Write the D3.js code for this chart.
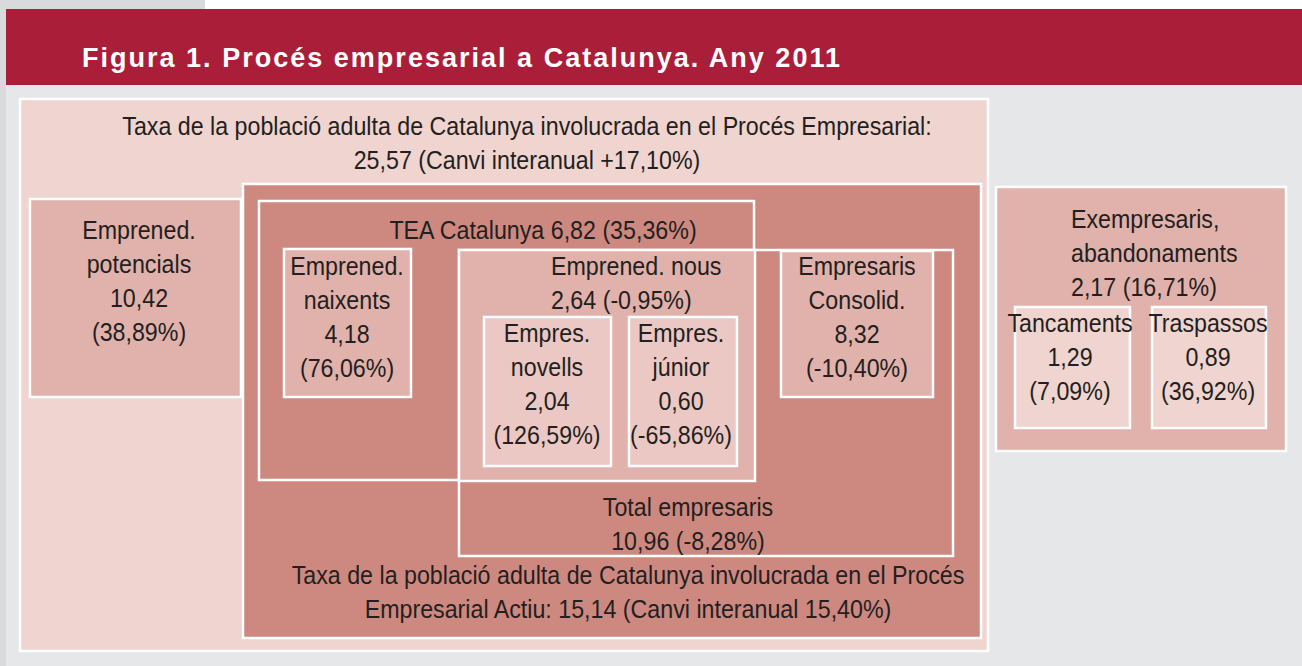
<!DOCTYPE html>
<html lang="ca">
<head>
  <meta charset="utf-8">
  <title>Figura 1. Procés empresarial a Catalunya. Any 2011</title>
  <script src="https://d3js.org/d3.v7.min.js"></script>
  <style>
    body { margin: 0; background: #e6e7e9; }
    svg { display: block; }
    .lbl { font-family: "Liberation Sans Narrow", "Liberation Sans", Arial, sans-serif; font-size: 26px; fill: #231f20; }
    .title { font-family: "Liberation Sans", Arial, sans-serif; font-weight: bold; font-size: 27px; fill: #fff; }
  </style>
</head>
<body>
  <svg></svg>
  <script>
    // dades de la figura (taxes sobre població adulta i canvi interanual, %)
    const nodeIds = ["total", "potencials", "actiu", "tea", "empresaris", "nous", "naixents",
                     "novells", "junior", "consolidats", "exempresaris", "tancaments", "traspassos"];
    const nodeValues = [25.57, 10.42, 15.14, 6.82, 10.96, 2.64, 4.18, 2.04, 0.60, 8.32, 2.17, 1.29, 0.89];
    const nodeChanges = [17.10, 38.89, 15.40, 35.36, -8.28, -0.95, 76.06, 126.59, -65.86, -10.40, 16.71, 7.09, 36.92];
    const nodeLabels = [
      ["Taxa de la població adulta de Catalunya involucrada en el Procés Empresarial:", "{v} (Canvi interanual {s}%)"],
      ["Emprened.", "potencials", "{v}", "({c}%)"],
      ["Taxa de la població adulta de Catalunya involucrada en el Procés", "Empresarial Actiu: {v} (Canvi interanual {c}%)"],
      ["TEA Catalunya {v} ({c}%)"],
      ["Total empresaris", "{v} ({c}%)"],
      ["Emprened. nous", "{v} ({c}%)"],
      ["Emprened.", "naixents", "{v}", "({c}%)"],
      ["Empres.", "novells", "{v}", "({c}%)"],
      ["Empres.", "júnior", "{v}", "({c}%)"],
      ["Empresaris", "Consolid.", "{v}", "({c}%)"],
      ["Exempresaris,", "abandonaments", "{v} ({c}%)"],
      ["Tancaments", "{v}", "({c}%)"],
      ["Traspassos", "{v}", "({c}%)"]
    ];
    const titleText = "Figura 1. Procés empresarial a Catalunya. Any 2011";

    // disposició dels requadres (unitats de la maqueta)
    const layout = {
      total:        { r: [20, 99, 988, 651],   fill: "l0", tx: 527, ty: 135, anchor: "middle" },
      potencials:   { r: [30, 199, 241, 397],  fill: "l2", tx: 139, ty: 239, anchor: "middle" },
      actiu:        { r: [243, 184, 981, 638], fill: "l1", tx: 628, ty: 584, anchor: "middle" },
      tea:          { r: [259, 201, 754, 480], fill: "l1", tx: 543, ty: 239, anchor: "middle" },
      empresaris:   { r: [459, 250, 953, 556], fill: "l1", tx: 688, ty: 516, anchor: "middle" },
      nous:         { r: [459, 250, 755, 481], fill: "l2", tx: 551, ty: 275, anchor: "start" },
      naixents:     { r: [284, 249, 411, 397], fill: "l2", tx: 347, ty: 275, anchor: "middle" },
      novells:      { r: [484, 317, 611, 466], fill: "l3", tx: 547, ty: 342, anchor: "middle" },
      junior:       { r: [629, 317, 737, 466], fill: "l3", tx: 681, ty: 342, anchor: "middle" },
      consolidats:  { r: [781, 251, 933, 397], fill: "l2", tx: 857, ty: 275, anchor: "middle" },
      exempresaris: { r: [996, 187, 1286, 451], fill: "l2", tx: 1071, ty: 228, anchor: "start" },
      tancaments:   { r: [1015, 307, 1130, 428], fill: "l0", tx: 1070, ty: 332, anchor: "middle" },
      traspassos:   { r: [1152, 307, 1266, 428], fill: "l0", tx: 1208, ty: 332, anchor: "middle" }
    };
    const fills = { l0: "#efd4cf", l1: "#cd8880", l2: "#e1b1ab", l3: "#ebc8c3" };
    const lineGap = 34;

    const width = 1302, height = 666;
    const x = d3.scaleLinear().domain([0, 1302]).range([0, width]);
    const y = d3.scaleLinear().domain([0, 666]).range([0, height]);

    const loc = d3.formatLocale({ decimal: ",", thousands: ".", grouping: [3], currency: ["", " €"], minus: "-" });
    const fv = loc.format(".2f");
    const fs = loc.format("+.2f");

    const svg = d3.select("svg").attr("width", width).attr("height", height);

    // fons i capçalera
    svg.append("rect").attr("width", width).attr("height", height).attr("fill", "#e6e7e9");
    svg.append("rect").attr("x", 0).attr("y", 0).attr("width", x(6)).attr("height", height).attr("fill", "#d9dadc");
    svg.append("rect").attr("x", 0).attr("y", 0).attr("width", width).attr("height", y(9)).attr("fill", "#fff");
    svg.append("rect").attr("x", 0).attr("y", 0).attr("width", x(205)).attr("height", y(9)).attr("fill", "#d9dadc");
    svg.append("rect").attr("x", x(6)).attr("y", y(9)).attr("width", width - x(6)).attr("height", y(85) - y(9)).attr("fill", "#ab1e3a");
    svg.append("text").attr("class", "title")
      .attr("x", x(82)).attr("y", y(67))
      .attr("textLength", x(840) - x(82)).attr("lengthAdjust", "spacing")
      .text(titleText);

    const nodes = nodeIds.map((id, i) => ({
      id, value: nodeValues[i], change: nodeChanges[i], lines: nodeLabels[i], ...layout[id]
    }));

    // requadres
    svg.append("g").selectAll("rect")
      .data(nodes)
      .join("rect")
        .attr("x", d => x(d.r[0])).attr("y", d => y(d.r[1]))
        .attr("width", d => x(d.r[2]) - x(d.r[0]))
        .attr("height", d => y(d.r[3]) - y(d.r[1]))
        .attr("fill", d => fills[d.fill])
        .attr("stroke", "#fff").attr("stroke-width", 2.5);

    // factor d'estrenyiment de la lletra (lletra condensada), calibrat amb la primera línia
    const probe = svg.append("text").attr("class", "lbl").text(nodeLabels[0][0]);
    const k = 810 / probe.node().getComputedTextLength();
    probe.remove();

    const fill = (t, d) => t.replace("{v}", fv(d.value)).replace("{c}", fv(d.change)).replace("{s}", fs(d.change));

    const labels = svg.append("g");
    nodes.forEach(d => {
      d.lines.forEach((t, j) => {
        labels.append("text").attr("class", "lbl")
          .attr("text-anchor", d.anchor)
          .attr("transform", `translate(${x(d.tx)},${y(d.ty + j * lineGap)}) scale(${k},1)`)
          .text(fill(t, d));
      });
    });
  </script>
</body>
</html>
